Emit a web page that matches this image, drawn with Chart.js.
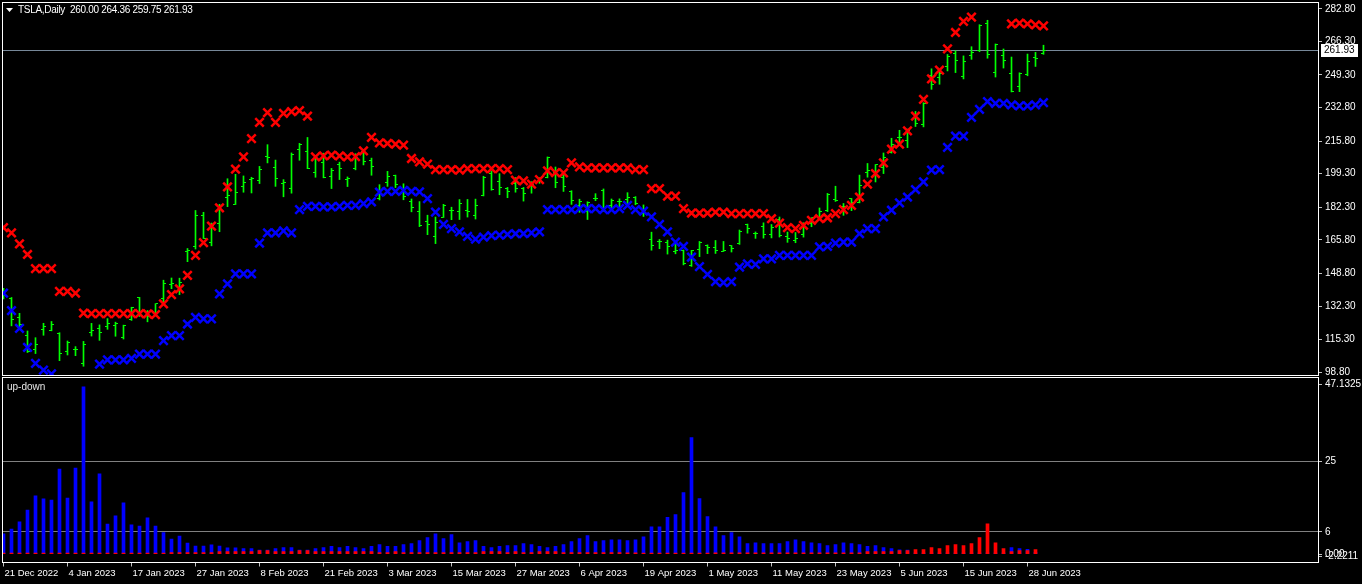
<!DOCTYPE html>
<html>
<head>
<meta charset="utf-8">
<title>TSLA,Daily</title>
<script src="https://cdn.jsdelivr.net/npm/chart.js@4.4.0/dist/chart.umd.min.js"></script>
<style>
  html, body { margin: 0; padding: 0; background: #000; overflow: hidden; }
  #wrap { position: relative; width: 1362px; height: 584px; }
  #main { position: absolute; left: 0; top: 0; }
  #sub { position: absolute; left: 0; top: 377px; }
</style>
</head>
<body>
<div id="wrap">
  <canvas id="main" width="1362" height="377"></canvas>
  <canvas id="sub" width="1362" height="207"></canvas>
</div>
<script>
// TSLA daily, 21 Dec 2022 .. 30 Jun 2023 (one entry per trading day)
const symbol = 'TSLA';
const timeframe = 'Daily';

const open = [
  139.34,136.00,126.37,117.50,110.35,120.39,119.95,118.47,109.11,110.51,
  103.00,118.96,121.07,122.09,122.56,116.55,125.70,136.56,127.26,128.68,
  135.87,143.00,141.91,159.97,162.43,178.05,164.57,173.89,187.33,183.95,
  193.01,196.43,196.10,207.78,202.23,194.42,191.94,211.76,210.78,199.99,
  204.99,197.93,203.91,196.33,202.03,210.59,206.21,186.74,194.80,198.54,
  191.38,185.04,180.25,175.13,167.46,177.31,180.80,180.37,180.56,178.08,
  188.28,199.30,195.26,191.65,194.42,192.00,193.13,195.58,197.53,199.91,
  197.32,190.52,183.08,179.94,186.69,190.74,182.96,185.36,186.32,187.15,
  179.10,166.17,164.80,164.65,159.82,160.29,152.64,160.90,163.17,161.88,
  160.01,162.71,163.97,173.72,168.95,172.55,168.70,176.07,167.66,165.65,
  168.41,174.22,177.17,180.70,186.20,182.56,186.54,184.62,200.10,199.78,
  202.59,210.15,217.80,216.14,228.00,224.22,249.07,247.94,253.51,260.17,
  248.40,258.92,261.50,275.13,250.77,259.29,250.07,243.24,249.70,258.03,
  260.00
];
const high = [
  141.26,136.63,128.62,119.67,116.27,123.57,124.48,118.80,114.59,111.75,
  114.39,123.52,122.76,125.95,124.13,122.63,131.70,136.68,129.99,133.51,
  145.38,146.50,146.41,161.42,180.68,179.77,174.30,183.81,196.75,199.00,
  198.17,197.50,203.00,214.00,206.20,196.30,209.82,214.66,217.65,208.44,
  209.71,201.99,205.14,197.67,209.42,211.23,207.20,193.75,200.48,198.60,
  194.20,186.50,185.18,178.29,177.35,183.80,182.34,186.22,186.27,186.44,
  198.00,200.66,199.31,192.36,197.39,192.35,195.29,197.33,207.79,202.69,
  198.74,190.68,186.39,185.10,189.19,191.58,186.50,186.57,189.69,187.69,
  183.50,169.70,166.00,165.65,163.47,160.67,160.48,165.00,163.28,165.49,
  165.00,162.95,170.79,173.80,169.82,174.43,173.57,177.38,169.76,169.52,
  174.50,177.06,181.95,189.32,192.96,184.22,186.78,198.60,204.48,203.95,
  209.80,217.25,221.29,221.91,230.83,235.23,252.42,250.97,259.68,261.57,
  258.95,263.60,274.75,276.99,265.00,262.45,258.37,250.39,259.88,260.74,
  264.36
];
const low = [
  135.89,122.26,121.02,108.76,108.24,117.50,119.75,104.64,107.52,107.16,
  101.81,117.11,114.92,120.51,117.00,115.60,125.02,127.01,124.31,127.35,
  134.27,141.10,138.07,154.76,161.17,166.50,162.78,169.93,182.61,183.69,
  189.92,189.55,194.31,204.77,192.89,187.61,189.44,206.11,201.84,197.50,
  197.22,191.78,196.33,192.80,201.26,203.75,198.52,186.01,192.88,192.30,
  186.10,180.00,172.51,168.44,163.91,177.14,176.03,176.10,177.35,176.35,
  188.04,190.95,188.65,187.15,189.94,185.43,189.44,194.42,197.20,192.20,
  190.32,183.76,179.74,176.11,185.65,180.31,180.94,182.01,182.69,183.58,
  177.65,160.56,161.32,158.61,158.75,153.14,152.37,157.32,158.83,158.93,
  159.91,159.65,163.51,169.19,166.56,166.68,166.79,167.23,164.55,164.35,
  167.19,172.45,176.31,180.11,185.26,178.22,180.58,184.53,197.53,195.12,
  199.37,209.75,214.52,212.53,223.20,223.01,242.02,244.59,251.34,250.50,
  247.29,257.21,261.07,257.78,248.25,252.80,240.70,240.85,248.89,253.61,
  259.75
];
const close = [
  137.57,125.35,123.15,109.10,112.71,121.82,123.18,108.10,113.64,110.34,
  113.06,119.77,118.85,123.22,123.56,122.40,131.49,128.78,127.17,133.42,
  143.75,143.89,144.43,160.27,177.90,166.66,173.22,181.41,188.27,189.98,
  194.76,196.81,201.29,207.32,196.89,194.64,209.25,214.24,202.04,208.31,
  197.37,200.86,202.07,196.88,207.63,205.71,202.77,190.90,197.79,193.81,
  187.71,182.00,172.92,173.44,174.48,183.26,180.45,184.13,180.13,183.25,
  197.58,191.15,192.22,190.41,191.81,189.19,193.88,195.28,207.46,194.77,
  192.58,185.52,185.06,184.51,186.79,180.54,185.90,185.00,187.04,184.31,
  180.59,162.99,165.08,162.55,160.67,153.75,160.19,164.31,161.83,160.31,
  160.61,161.20,170.06,171.79,169.15,168.54,172.08,167.98,166.35,166.52,
  173.86,176.89,180.14,188.87,185.77,182.90,184.47,193.17,201.16,203.93,
  207.52,213.97,217.61,221.31,224.57,234.86,244.40,249.83,258.71,256.79,
  255.90,260.54,274.45,259.46,264.61,256.60,241.05,250.21,256.24,257.50,
  261.93
];

// upper (red) and lower (blue) band markers
const upperBand = [
  172.0,169.3,163.8,158.4,151.2,151.2,151.2,139.7,139.7,138.8,
  128.7,128.5,128.5,128.5,128.5,128.5,128.5,128.5,128.3,128.0,
  133.4,138.1,141.0,147.8,157.9,164.4,172.8,182.0,192.6,201.6,
  207.8,217.1,225.3,230.2,225.3,229.8,230.7,231.2,228.5,207.8,
  208.3,208.7,208.3,207.8,208.0,210.9,217.7,214.9,214.6,214.3,
  213.8,207.0,205.3,204.1,201.4,201.4,201.4,201.1,201.9,201.9,
  201.9,201.9,201.9,201.4,196.0,195.7,194.0,196.3,200.7,199.9,
  199.7,204.8,202.8,202.3,202.3,202.3,202.3,202.3,202.3,201.4,
  201.4,191.8,191.8,187.9,187.9,181.6,179.4,179.4,179.4,179.9,
  179.9,179.1,179.1,179.1,179.1,179.1,176.5,174.3,172.0,171.5,
  173.2,175.7,176.5,177.0,179.1,181.1,183.3,187.5,194.0,199.4,
  204.8,211.7,214.3,221.0,228.5,236.9,247.3,251.8,262.5,270.8,
  276.4,278.6,null,null,null,null,275.2,275.5,275.2,274.7,
  274.2
];
const lowerBand = [
  138.8,130.0,121.0,111.4,103.3,99.9,97.9,null,null,null,
  null,null,102.9,105.0,105.0,105.0,105.8,108.0,108.0,108.0,
  114.8,117.3,117.3,123.2,126.6,125.8,125.8,138.5,143.5,148.6,
  148.6,148.6,164.2,169.3,169.3,170.3,169.3,181.1,182.8,182.8,
  182.5,182.5,182.8,183.3,183.3,184.1,185.0,190.0,190.4,190.4,
  190.9,190.4,190.1,186.7,179.9,173.7,171.5,169.8,167.6,166.2,
  167.2,167.9,168.2,168.6,168.9,168.9,169.3,169.8,181.1,181.1,
  181.1,181.1,181.6,181.6,181.6,181.1,181.1,181.6,183.3,181.1,
  180.4,177.4,173.7,169.8,164.7,162.5,157.1,152.3,148.3,144.7,
  144.2,144.7,152.0,153.7,153.4,156.2,156.2,157.9,157.9,157.9,
  157.9,157.9,162.2,162.5,164.2,164.7,164.7,168.9,171.5,171.5,
  177.4,180.8,184.5,187.5,191.3,195.2,201.1,201.4,212.6,218.3,
  218.3,227.8,231.9,235.8,234.9,234.9,234.1,233.6,233.6,234.1,
  235.3
];

// up-down histogram
const upValues = [
  5.5,6.8,8.7,11.9,15.7,14.9,14.6,22.9,15.1,23.2,
  45.0,14.1,21.6,8.1,10.3,13.8,7.9,7.6,9.8,7.6,
  5.8,4.1,4.9,3.0,2.2,2.2,2.5,2.2,1.7,1.7,
  1.5,1.5,1.1,1.1,1.5,1.8,1.8,1.1,1.1,1.5,
  1.8,2.1,1.8,2.1,1.8,1.5,2.1,2.6,2.1,2.1,
  2.6,2.9,3.7,4.5,5.5,4.2,5.3,3.1,3.4,3.7,
  2.1,1.8,2.1,2.3,2.3,2.9,2.6,2.1,1.8,2.1,
  2.6,3.4,4.2,5.0,3.4,3.7,3.9,3.9,3.7,3.9,
  4.7,7.4,7.4,9.9,10.7,16.6,31.4,15.0,10.1,7.4,
  5.0,5.8,4.7,2.9,3.1,2.9,2.9,2.9,3.4,3.9,
  3.4,3.1,2.9,2.3,2.6,3.1,2.9,2.6,2.1,2.3,
  1.8,1.5,1.2,1.1,0.4,0.4,0.4,0.4,0.4,0.4,
  0.4,0.4,0.4,0.4,0.4,0.4,1.8,1.5,1.3,0.5,
  null
];
const downValues = [
  0.3,0.3,0.3,0.3,0.3,0.3,0.3,0.3,0.3,0.3,
  0.3,0.3,0.3,0.3,0.3,0.3,0.3,0.3,0.3,0.3,
  0.3,0.45,0.45,0.45,0.45,0.45,0.45,0.7,0.7,0.7,
  0.7,0.7,1.0,1.0,0.7,0.7,0.7,1.0,1.0,0.7,
  0.7,0.7,0.7,0.7,0.7,0.7,0.7,0.45,0.45,0.7,
  0.45,0.45,0.45,0.45,0.45,0.45,0.45,0.45,0.45,0.45,
  0.7,0.7,0.7,0.45,0.7,0.45,0.45,0.7,0.7,0.7,
  0.45,0.45,0.45,0.45,0.45,0.45,0.45,0.45,0.35,0.35,
  0.3,0.3,0.3,0.3,0.3,0.3,0.3,0.3,0.3,0.35,
  0.35,0.35,0.35,0.35,0.35,0.35,0.35,0.35,0.35,0.35,
  0.35,0.35,0.35,0.35,0.35,0.35,0.35,0.35,0.7,0.7,
  0.7,0.7,1.0,1.0,1.25,1.25,1.8,1.5,2.3,2.6,
  2.3,2.9,4.5,8.15,3.1,1.5,0.7,1.0,1.0,1.25,
  null
];

// axis labels
const priceTicks = [282.80, 266.30, 249.30, 232.80, 215.80, 199.30, 182.30, 165.80, 148.80, 132.30, 115.30, 98.80];
const subTicks = [47.1325, 25, 6, 0, -2.2211];
const subLabels = ['47.1325', '25', '6', '0.00', '-2.2211'];
const subLevels = [25, 6];
const timeTickIdx = [0, 8, 16, 24, 32, 40, 48, 56, 64, 72, 80, 88, 96, 104, 112, 120, 128];
const timeLabels = ['21 Dec 2022', '4 Jan 2023', '17 Jan 2023', '27 Jan 2023', '8 Feb 2023', '21 Feb 2023',
  '3 Mar 2023', '15 Mar 2023', '27 Mar 2023', '6 Apr 2023', '19 Apr 2023', '1 May 2023', '11 May 2023',
  '23 May 2023', '5 Jun 2023', '15 Jun 2023', '28 Jun 2023'];

// --- look ---
const FONT_FAMILY = '"Liberation Sans", Arial, sans-serif';
const AXIS_W = 44;
const X_MIN = -0.1875, X_MAX = 164.3125;   // 8 px per bar
const last = close.length - 1;

Chart.defaults.font.family = FONT_FAMILY;
Chart.defaults.font.size = 10;
Chart.defaults.color = '#ffffff';

const pts = arr => arr.map((v, i) => ({ x: i, y: v }));

function tickImage(side) {
  const c = document.createElement('canvas');
  c.width = 5; c.height = 1;
  const g = c.getContext('2d');
  g.fillStyle = '#00ff00';
  g.fillRect(side < 0 ? 0 : 3, 0, 2, 1);
  return c;
}

// scales must not push the plot area in for their edge labels
function noPad(s) { s.paddingTop = 0; s.paddingBottom = 0; s.paddingLeft = 0; s.paddingRight = 0; }

const framePlugin = {
  id: 'frame',
  afterDraw(chart, args, opts) {
    const { ctx, chartArea: a } = chart;
    ctx.save();
    ctx.strokeStyle = '#ffffff';
    ctx.lineWidth = 1;
    ctx.strokeRect(Math.floor(a.left) + 0.5, opts.top + 0.5, Math.round(a.right - a.left), opts.bottom - opts.top);
    ctx.restore();
  }
};

const priceLinePlugin = {
  id: 'priceLine',
  beforeDatasetsDraw(chart) {
    const { ctx, chartArea: a } = chart;
    const y = Math.round(chart.scales.y.getPixelForValue(close[last])) + 0.5;
    ctx.save();
    ctx.strokeStyle = '#778899';
    ctx.beginPath(); ctx.moveTo(a.left, y); ctx.lineTo(a.right, y); ctx.stroke();
    ctx.restore();
  },
  afterDraw(chart) {
    const { ctx, chartArea: a } = chart;
    const y = Math.round(chart.scales.y.getPixelForValue(close[last]));
    ctx.save();
    ctx.fillStyle = '#ffffff';
    ctx.fillRect(a.right + 3, y - 6, 37, 13);
    ctx.fillStyle = '#000000';
    ctx.font = '10px ' + FONT_FAMILY;
    ctx.textBaseline = 'middle';
    ctx.fillText(close[last].toFixed(2), a.right + 6, y + 0.5);
    // title
    ctx.fillStyle = '#ffffff';
    ctx.beginPath(); ctx.moveTo(6, 8); ctx.lineTo(13, 8); ctx.lineTo(9.5, 12); ctx.closePath(); ctx.fill();
    const title = symbol + ',' + timeframe + '  ' +
      [open[last], high[last], low[last], close[last]].map(v => v.toFixed(2)).join(' ');
    ctx.letterSpacing = '-0.3px';
    ctx.fillText(title, 18, 10.5);
    ctx.restore();
  }
};

const subLabelPlugin = {
  id: 'subLabel',
  afterDraw(chart) {
    const { ctx } = chart;
    ctx.save();
    ctx.fillStyle = '#e6e6e6';
    ctx.font = '10px ' + FONT_FAMILY;
    ctx.textBaseline = 'middle';
    ctx.fillText('up-down', 7, 10);
    ctx.restore();
  }
};

// --- price panel ---
new Chart(document.getElementById('main'), {
  type: 'bar',
  data: {
    datasets: [
      { type: 'scatter', data: pts(upperBand), pointStyle: 'crossRot', radius: 6, borderWidth: 2.5,
        borderColor: '#ff0000', backgroundColor: '#ff0000', clip: 0 },
      { type: 'scatter', data: pts(lowerBand), pointStyle: 'crossRot', radius: 6, borderWidth: 2.5,
        borderColor: '#0000ff', backgroundColor: '#0000ff', clip: 0 },
      { type: 'scatter', data: pts(open), pointStyle: tickImage(-1), radius: 2, clip: 0 },
      { type: 'scatter', data: pts(close), pointStyle: tickImage(1), radius: 2, clip: 0 },
      { type: 'bar', data: low.map((v, i) => ({ x: i, y: [v, high[i]] })), backgroundColor: '#00ff00',
        barThickness: 1, grouped: false, borderWidth: 0, clip: 0 }
    ]
  },
  options: {
    responsive: false,
    animation: false,
    events: [],
    layout: { autoPadding: false, padding: { left: 2, top: 2, right: 0, bottom: 2 } },
    plugins: { legend: { display: false }, tooltip: { enabled: false }, frame: { top: 2, bottom: 375 } },
    scales: {
      x: { type: 'linear', min: X_MIN, max: X_MAX, offset: false, display: false },
      y: {
        position: 'right', min: 97.38, max: 286.24,
        afterBuildTicks: s => { s.ticks = priceTicks.map(v => ({ value: v })); },
        afterFit: s => { s.width = AXIS_W; noPad(s); },
        grid: { drawOnChartArea: false, tickLength: 4, tickColor: '#c0c0c0' },
        border: { display: false },
        ticks: { color: '#ffffff', padding: 3, callback: v => Number(v).toFixed(2) }
      }
    }
  },
  plugins: [priceLinePlugin, framePlugin]
});

// --- up-down panel ---
new Chart(document.getElementById('sub'), {
  type: 'bar',
  data: {
    datasets: [
      { label: 'down', data: pts(downValues), backgroundColor: '#ff0000', barThickness: 3, grouped: false, borderWidth: 0 },
      { label: 'up', data: pts(upValues), backgroundColor: '#0000ff', barThickness: 3, grouped: false, borderWidth: 0 }
    ]
  },
  options: {
    responsive: false,
    animation: false,
    events: [],
    layout: { autoPadding: false, padding: { left: 2, top: 2, right: 0, bottom: 0 } },
    plugins: { legend: { display: false }, tooltip: { enabled: false }, frame: { top: 0, bottom: 185 } },
    scales: {
      x: {
        type: 'linear', min: X_MIN, max: X_MAX, offset: false, position: 'bottom',
        afterBuildTicks: s => { s.ticks = timeTickIdx.map(v => ({ value: v })); },
        afterFit: s => { s.height = 21.5; noPad(s); },
        grid: { drawOnChartArea: false, offset: false, tickLength: 4, tickColor: '#c0c0c0' },
        border: { display: false },
        ticks: { color: '#ffffff', autoSkip: false, maxRotation: 0, align: 'start', labelOffset: 1, padding: 1,
          font: { size: 9.5 }, callback: (v, i) => timeLabels[i] }
      },
      y: {
        position: 'right', min: subTicks[subTicks.length - 1], max: subTicks[0],
        afterBuildTicks: s => {
          // edge labels sit just inside the panel, as the terminal draws them
          s.ticks = subTicks.map((v, i) => ({ value: i === 0 ? v - 1.45 : (i === subTicks.length - 1 ? -0.5 : v) }));
        },
        afterFit: s => { s.width = AXIS_W; noPad(s); },
        grid: {
          drawOnChartArea: true, tickLength: 4, tickColor: '#c0c0c0',
          color: c => (c.tick && subLevels.includes(c.tick.value)) ? '#808080' : 'rgba(0,0,0,0)'
        },
        border: { display: false },
        ticks: { color: '#ffffff', padding: 3, callback: (v, i) => subLabels[i] }
      }
    }
  },
  plugins: [subLabelPlugin, framePlugin]
});
</script>
</body>
</html>
